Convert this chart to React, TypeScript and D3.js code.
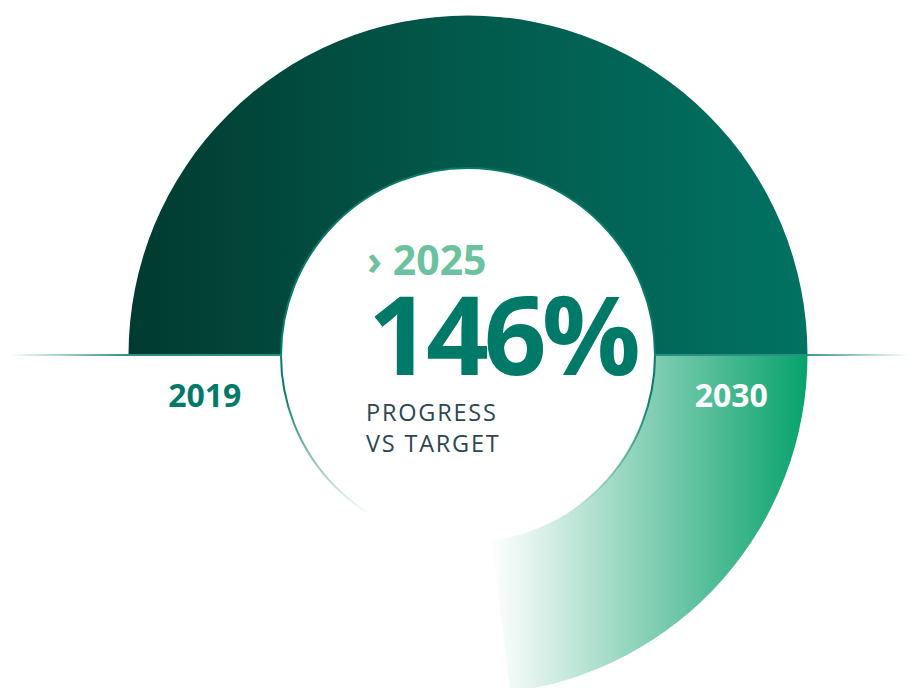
import React from "react";
import * as d3 from "d3";

const startYear = ["2019"];
const targetYear = ["2030"];
const currentYear = ["› 2025"];
const progressValue = [146];
const targetValue = [100];
const captionLines = ["PROGRESS", "VS TARGET"];

const W = 909;
const H = 688;
const cx = 468;
const cy = 355;
const rOuter = 339.5;
const rInner = 187;

export default function App() {
  const angle = d3
    .scaleLinear()
    .domain([0, targetValue[0]])
    .range([-Math.PI / 2, Math.PI / 2]);

  const arc = d3.arc<any>().innerRadius(rInner).outerRadius(rOuter);
  const basePath = arc({ startAngle: angle(0), endAngle: angle(targetValue[0]) }) as string;
  const extraPath = arc({
    startAngle: angle(targetValue[0]),
    endAngle: angle(progressValue[0]),
  }) as string;

  const font = "'Open Sans', 'Noto Sans', sans-serif";

  return (
    <svg
      width={W}
      height={H}
      style={{ position: "absolute", left: 0, top: 0, background: "#fff" }}
    >
      <defs>
        <linearGradient id="gBase" gradientUnits="userSpaceOnUse" x1={-rOuter} y1={0} x2={rOuter} y2={0}>
          <stop offset="0" stopColor="#013a2f" />
          <stop offset="0.5" stopColor="#025a4c" />
          <stop offset="1" stopColor="#017263" />
        </linearGradient>
        <linearGradient id="gExtra" gradientUnits="userSpaceOnUse" x1={20} y1={0} x2={rOuter} y2={0}>
          <stop offset="0" stopColor="#ffffff" stopOpacity="1" />
          <stop offset="0.12" stopColor="#e6f5ef" />
          <stop offset="0.55" stopColor="#78cbae" />
          <stop offset="1" stopColor="#07a26c" />
        </linearGradient>
        <linearGradient id="gLineL" gradientUnits="userSpaceOnUse" x1={10} y1={0} x2={130} y2={0}>
          <stop offset="0" stopColor="#2b8f81" stopOpacity="0" />
          <stop offset="1" stopColor="#2b8f81" stopOpacity="1" />
        </linearGradient>
        <linearGradient id="gLineR" gradientUnits="userSpaceOnUse" x1={800} y1={0} x2={909} y2={0}>
          <stop offset="0" stopColor="#2b8f81" stopOpacity="1" />
          <stop offset="1" stopColor="#2b8f81" stopOpacity="0" />
        </linearGradient>
        <linearGradient id="gRing" gradientUnits="userSpaceOnUse" x1={0} y1={395} x2={0} y2={515}>
          <stop offset="0" stopColor="#087a69" stopOpacity="1" />
          <stop offset="1" stopColor="#087a69" stopOpacity="0" />
        </linearGradient>
      </defs>

      <g transform={`translate(${cx},${cy})`}>
        <path d={extraPath} fill="url(#gExtra)" />
        <path d={basePath} fill="url(#gBase)" />
      </g>

      <circle cx={cx} cy={cy} r={rInner} fill="none" stroke="url(#gRing)" strokeWidth={2} />

      <line x1={0} y1={cy} x2={cx - rInner} y2={cy} stroke="url(#gLineL)" strokeWidth={2} />
      <line x1={cx + rInner} y1={cy} x2={W} y2={cy} stroke="url(#gLineR)" strokeWidth={2} />

      <text x={(cx - rOuter + cx - rInner) / 2} y={407} textAnchor="middle" fontFamily={font} fontWeight={700} fontSize={32} fill="#007a68">
        {startYear[0]}
      </text>
      <text x={(cx + rOuter + cx + rInner) / 2} y={407} textAnchor="middle" fontFamily={font} fontWeight={700} fontSize={32} fill="#ffffff">
        {targetYear[0]}
      </text>

      <text x={367} y={275} fontFamily={font} fontWeight={700} fontSize={41} fill="#6cc29f">
        {currentYear[0]}
      </text>
      <text x={368} y={375} fontFamily={font} fontWeight={700} fontSize={110} letterSpacing={-5} fill="#007a68">
        {`${progressValue[0]}%`}
      </text>
      {captionLines.map((t, i) => (
        <text key={t} x={366} y={421 + i * 31} fontFamily={font} fontWeight={400} fontSize={23.5} letterSpacing={1.8} fill="#2c4652">
          {t}
        </text>
      ))}
    </svg>
  );
}
